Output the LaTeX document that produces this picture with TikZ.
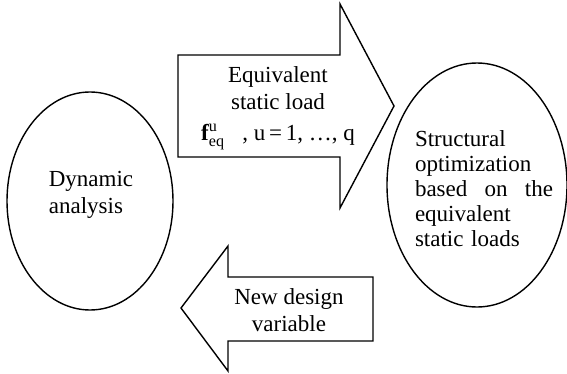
\documentclass[tikz,border=0pt]{standalone}
\usepackage{amsmath}
\usepackage{fontspec}
\setmainfont{Liberation Serif}
\usepackage{tikz}
\usetikzlibrary{shapes.geometric}

\begin{document}
\begin{tikzpicture}[
    x=0.5pt, y=-0.5pt,
    font=\fontsize{11.5}{13.5}\selectfont,
    bubble/.style={ellipse, draw, line width=0.7pt, inner sep=0pt},
    txt/.style={align=left, inner sep=0pt},
    ctxt/.style={align=center, inner sep=0pt},
    fat/.style={draw, line width=0.7pt, line join=miter}
]
\useasboundingbox (0,0) rectangle (567,374);

% ===== ELLIPSES =====
\node[bubble, minimum width=83pt, minimum height=109pt] (dyn) at (90,201) {};
\node[txt] (dyntxt) at (91,195) {Dynamic\\analysis};
\node[bubble, minimum width=90pt, minimum height=122pt] (opt) at (477,185) {};
\node[txt, text width=69pt, font=\fontsize{11.5}{12.5}\selectfont] (opttxt) at (484,189)
    {Structural\\optimization\\based\hfill on\hfill the\\equivalent\\static loads};

% ===== TOP ARROW =====
\draw[fat] (178,55) -- (340,55) -- (340,4) -- (394,106) -- (340,208)
    -- (340,157) -- (178,157) -- cycle;
\node[ctxt] (load) at (278,108)
    {Equivalent\\static load\\[2pt]
     \textbf{f}$^{\textrm{u}}_{\textrm{eq}}$\enspace\ , u\,=\,1, \ldots, q};

% ===== BOTTOM ARROW =====
\draw[fat] (181,308) -- (228,246) -- (228,277) -- (373,277) -- (373,341)
    -- (228,341) -- (228,371) -- cycle;
\node[ctxt] (newdv) at (289,310) {New design\\variable};
\end{tikzpicture}
\end{document}
